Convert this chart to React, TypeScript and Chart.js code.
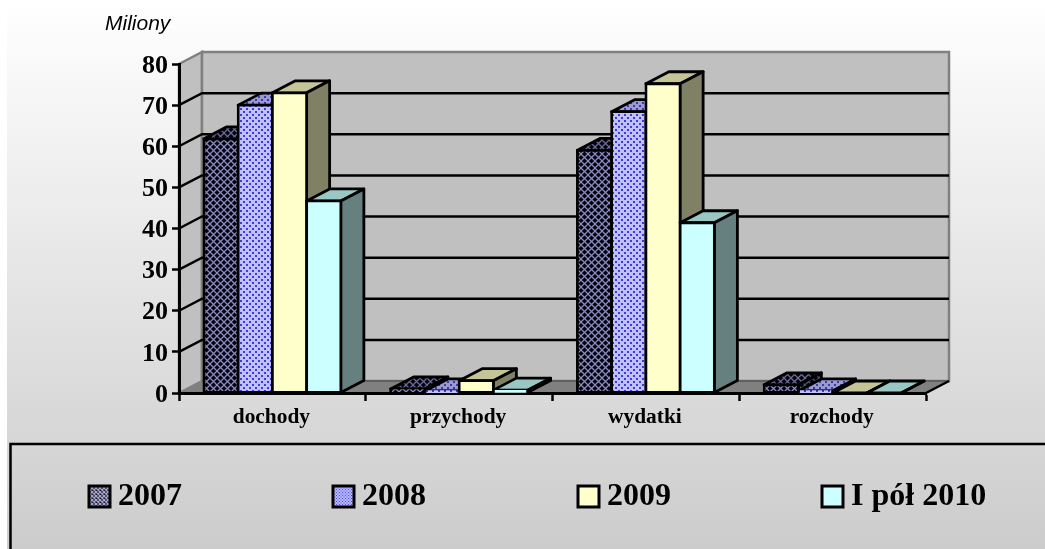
import React, { useEffect, useRef } from "react";
import { Chart, registerables } from "chart.js";

Chart.register(...registerables);

const categories = ["dochody", "przychody", "wydatki", "rozchody"];
const seriesLabels = ["2007", "2008", "2009", "I pół 2010"];
const values2007 = [61.8, 1, 59, 2];
const values2008 = [70, 0.5, 68.4, 0.5];
const values2009 = [73, 3, 75.2, 0];
const valuesH1 = [46.7, 0.7, 41.4, 0];
const yTicks = [0, 10, 20, 30, 40, 50, 60, 70, 80];

const DX = 23;
const DY = 12;
const STROKE = 2.8;
const legendX = [89, 333, 578, 822];

function tile(w: number, h: number, paint: (c: CanvasRenderingContext2D) => void) {
  const cv = document.createElement("canvas");
  cv.width = w;
  cv.height = h;
  const c = cv.getContext("2d")!;
  paint(c);
  return document.createElement("canvas").getContext("2d")!.createPattern(cv, "repeat")!;
}

function hatch(bg: string, fg: string, n = 7) {
  return tile(n, n, (c) => {
    c.fillStyle = bg;
    c.fillRect(0, 0, n, n);
    c.strokeStyle = fg;
    c.lineWidth = 1.3;
    c.beginPath();
    c.moveTo(-1, -1);
    c.lineTo(n + 1, n + 1);
    c.moveTo(n + 1, -1);
    c.lineTo(-1, n + 1);
    c.stroke();
  });
}

function dots(bg: string, fg: string, n = 6) {
  return tile(n, n, (c) => {
    c.fillStyle = bg;
    c.fillRect(0, 0, n, n);
    c.fillStyle = fg;
    const d = n / 3;
    c.fillRect(0, 0, d, d);
    c.fillRect(n / 2, n / 2, d, d);
  });
}

export default function App() {
  const ref = useRef<HTMLCanvasElement>(null);

  useEffect(() => {
    const fronts: any[] = [hatch("#000010", "#8c8cbc"), dots("#c0c0ff", "#3c3cd8"), "#ffffcc", "#ccffff"];
    const tops: any[] = [hatch("#000010", "#6c6c90"), dots("#9a9ad0", "#3c3ca8"), "#c4c498", "#99c8c4"];
    const sides: any[] = [hatch("#000010", "#55556e"), dots("#6c6c94", "#2a2a78"), "#808064", "#668080"];
    const legendFills: any[] = [hatch("#1a1a2a", "#a4a4cc", 4), dots("#b8b8ff", "#4a4ad8", 3), "#ffffcc", "#ccffff"];

    const scene = {
      id: "scene",
      beforeDraw(chart: any) {
        const { ctx, width, height, scales, chartArea } = chart;
        const y = scales.y;
        const { left, right } = chartArea;
        const y0 = y.getPixelForValue(0);
        const yMax = y.getPixelForValue(80);
        ctx.save();
        ctx.fillStyle = "#ffffff";
        ctx.fillRect(0, 0, width, height);
        const g = ctx.createLinearGradient(0, 0, 0, height);
        g.addColorStop(0, "#ffffff");
        g.addColorStop(1, "#cccccc");
        ctx.fillStyle = g;
        ctx.fillRect(7, 0, width - 7, height);
        ctx.fillStyle = "#c0c0c0";
        ctx.strokeStyle = "#808080";
        ctx.lineWidth = 2.5;
        ctx.beginPath();
        ctx.moveTo(left, yMax);
        ctx.lineTo(left + DX, yMax - DY);
        ctx.lineTo(left + DX, y0 - DY);
        ctx.lineTo(left, y0);
        ctx.closePath();
        ctx.fill();
        ctx.stroke();
        ctx.beginPath();
        ctx.rect(left + DX, yMax - DY, right - left, y0 - yMax);
        ctx.fill();
        ctx.stroke();
        ctx.fillStyle = "#808080";
        ctx.beginPath();
        ctx.moveTo(left, y0);
        ctx.lineTo(left + DX, y0 - DY);
        ctx.lineTo(right + DX, y0 - DY);
        ctx.lineTo(right, y0);
        ctx.closePath();
        ctx.fill();
        ctx.strokeStyle = "#606060";
        ctx.lineWidth = 2;
        ctx.beginPath();
        ctx.moveTo(left + DX, y0 - DY);
        ctx.lineTo(right + DX, y0 - DY);
        ctx.stroke();
        ctx.strokeStyle = "#000000";
        ctx.lineWidth = 2.5;
        ctx.beginPath();
        yTicks.forEach((t) => {
          if (t === 0 || t === 80) return;
          const p = y.getPixelForValue(t);
          ctx.moveTo(left, p);
          ctx.lineTo(left + DX, p - DY);
          ctx.lineTo(right + DX, p - DY);
        });
        ctx.moveTo(right, y0);
        ctx.lineTo(right + DX, y0 - DY);
        ctx.stroke();
        ctx.restore();

        ctx.save();
        ctx.fillStyle = "#000000";
        ctx.font = "italic 21px 'Liberation Sans'";
        ctx.textBaseline = "alphabetic";
        ctx.fillText("Miliony", 105, 30);
        ctx.restore();
      },
      beforeDatasetsDraw(chart: any) {
        const { ctx } = chart;
        chart.data.datasets.forEach((_: any, i: number) => {
          const meta = chart.getDatasetMeta(i);
          ctx.save();
          ctx.lineWidth = STROKE;
          ctx.strokeStyle = "#000000";
          ctx.lineJoin = "round";
          meta.data.forEach((bar: any) => {
            const l = bar.x - bar.width / 2;
            const r = bar.x + bar.width / 2;
            ctx.fillStyle = tops[i];
            ctx.beginPath();
            ctx.moveTo(l, bar.y);
            ctx.lineTo(l + DX, bar.y - DY);
            ctx.lineTo(r + DX, bar.y - DY);
            ctx.lineTo(r, bar.y);
            ctx.closePath();
            ctx.fill();
            ctx.stroke();
            ctx.fillStyle = sides[i];
            ctx.beginPath();
            ctx.moveTo(r, bar.y);
            ctx.lineTo(r + DX, bar.y - DY);
            ctx.lineTo(r + DX, bar.base - DY);
            ctx.lineTo(r, bar.base);
            ctx.closePath();
            ctx.fill();
            ctx.stroke();
          });
          ctx.restore();
          meta.controller.draw();
        });
        return false;
      },
      afterDraw(chart: any) {
        const { ctx, width, height } = chart;
        ctx.save();
        ctx.strokeStyle = "#000000";
        ctx.lineWidth = 2.5;
        ctx.beginPath();
        ctx.moveTo(width + 5, 444);
        ctx.lineTo(10.5, 444);
        ctx.lineTo(10.5, height + 5);
        ctx.stroke();
        ctx.font = "bold 32px 'Liberation Serif'";
        ctx.textBaseline = "middle";
        chart.data.datasets.forEach((ds: any, i: number) => {
          const x = legendX[i];
          ctx.fillStyle = legendFills[i];
          ctx.lineWidth = 3;
          ctx.beginPath();
          ctx.rect(x, 486, 21, 21);
          ctx.fill();
          ctx.stroke();
          ctx.fillStyle = "#000000";
          ctx.fillText(ds.label, x + 29, 497);
        });
        ctx.restore();
      },
    };

    const series = [values2007, values2008, values2009, valuesH1];
    const chart = new Chart(ref.current!, {
      type: "bar",
      data: {
        labels: categories,
        datasets: series.map((data, i) => ({
          label: seriesLabels[i],
          data,
          backgroundColor: fronts[i],
          borderColor: "#000000",
          borderWidth: STROKE,
          borderSkipped: false,
          inflateAmount: STROKE / 2,
          categoryPercentage: 137 / 186.75,
          barPercentage: 1,
        })),
      },
      options: {
        responsive: false,
        animation: false,
        layout: { padding: { top: 64, right: 119, left: 0, bottom: 0 } },
        plugins: { legend: { display: false }, tooltip: { enabled: false }, title: { display: false } },
        scales: {
          x: {
            afterFit: (s: any) => {
              s.height = 156;
            },
            offset: true,
            grid: {
              offset: true,
              drawOnChartArea: false,
              drawTicks: true,
              tickLength: 8,
              tickColor: "#000000",
              tickWidth: 2.5,
            },
            border: { color: "#000000", width: 3 },
            ticks: {
              color: "#000000",
              padding: 4,
              labelOffset: -1,
              autoSkip: false,
              maxRotation: 0,
              font: { family: "'Liberation Serif'", size: 21.4, weight: "bold" },
            },
          },
          y: {
            min: 0,
            max: 80,
            afterFit: (s: any) => {
              s.width = 179;
            },
            afterBuildTicks: (s: any) => {
              s.ticks = yTicks.map((value) => ({ value }));
            },
            grid: {
              drawOnChartArea: false,
              drawTicks: true,
              tickLength: 7,
              tickColor: "#000000",
              tickWidth: 2.5,
            },
            border: { color: "#000000", width: 3 },
            ticks: {
              color: "#000000",
              padding: 4,
              labelOffset: 2,
              font: { family: "'Liberation Serif'", size: 26, weight: "bold" },
            },
          },
        },
      } as any,
      plugins: [scene as any],
    });
    return () => chart.destroy();
  }, []);

  return (
    <div style={{ position: "absolute", left: 0, top: 0, width: 1045, height: 549 }}>
      <canvas ref={ref} width={1045} height={549} style={{ display: "block" }} />
    </div>
  );
}
